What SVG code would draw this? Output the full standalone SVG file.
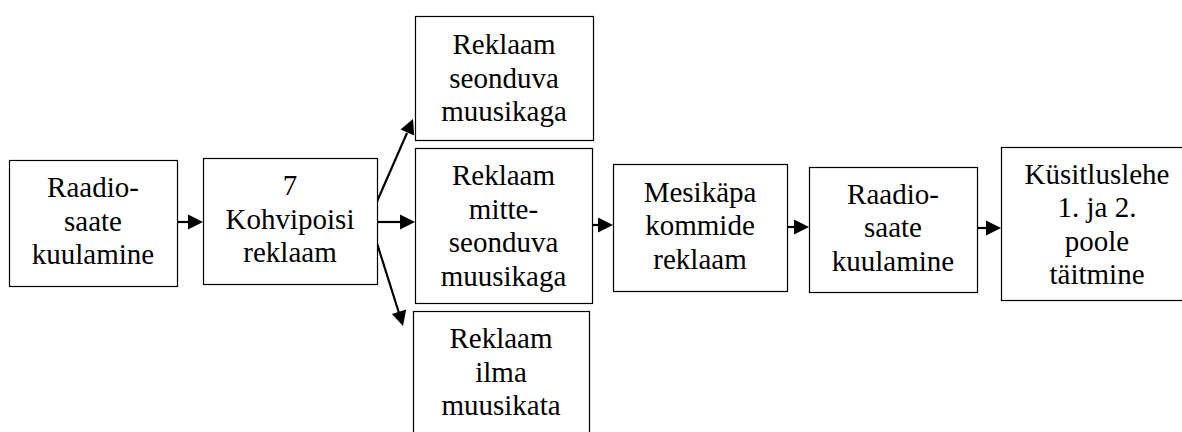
<svg xmlns="http://www.w3.org/2000/svg" width="1182" height="432" viewBox="0 0 1182 432">
  <style>
    .box { fill: #fff; stroke: #000; stroke-width: 1.2; }
    .conn line { stroke: #000; stroke-width: 2.2; }
    .conn polygon { fill: #000; }
    .lbl { font-family: "Times New Roman", "Liberation Serif", "DejaVu Serif", serif; font-size: 29px; fill: #000; text-anchor: middle; }
  </style>
  <rect width="1182" height="432" fill="#fff"/>

  <!-- connectors: shaft plus a filled head ending on the target box edge -->
  <g id="connectors" class="conn">
    <line x1="177" y1="222" x2="190" y2="222"/>
    <polygon points="203,222 188,214.5 188,229.5"/>
    <line x1="377" y1="222" x2="402" y2="222"/>
    <polygon points="415,222 400,214.5 400,229.5"/>
    <line x1="375" y1="206" x2="407" y2="133"/>
    <polygon points="413,119 400.5,129.5 414.2,135.5"/>
    <line x1="375" y1="237" x2="399" y2="313"/>
    <polygon points="403,326 391.9,314.1 406.2,309.6"/>
    <line x1="592" y1="225" x2="600" y2="225"/>
    <polygon points="613,225 598,217.5 598,232.5"/>
    <line x1="787" y1="227" x2="796" y2="227"/>
    <polygon points="809,227 794,219.5 794,234.5"/>
    <line x1="977" y1="228" x2="988" y2="228"/>
    <polygon points="1001,228 986,220.5 986,235.5"/>
  </g>

  <g id="raadio1">
    <rect class="box" x="9.5" y="160.5" width="168" height="126"/>
    <text class="lbl" x="93" y="197">Raadio-</text>
    <text class="lbl" x="93" y="230.5">saate</text>
    <text class="lbl" x="93" y="264">kuulamine</text>
  </g>

  <g id="kohvipoiss">
    <rect class="box" x="203.5" y="158.5" width="174" height="126"/>
    <text class="lbl" x="290" y="195">7</text>
    <text class="lbl" x="290" y="228.5">Kohvipoisi</text>
    <text class="lbl" x="290" y="262">reklaam</text>
  </g>

  <g id="seonduv">
    <rect class="box" x="415.5" y="16.5" width="178" height="124"/>
    <text class="lbl" x="504" y="54">Reklaam</text>
    <text class="lbl" x="504" y="87.5">seonduva</text>
    <text class="lbl" x="504" y="121">muusikaga</text>
  </g>

  <g id="mitteseonduv">
    <rect class="box" x="415.5" y="148.5" width="177" height="155"/>
    <text class="lbl" x="503.5" y="185">Reklaam</text>
    <text class="lbl" x="503.5" y="218.5">mitte-</text>
    <text class="lbl" x="503.5" y="252">seonduva</text>
    <text class="lbl" x="503.5" y="285.5">muusikaga</text>
  </g>

  <g id="ilma">
    <rect class="box" x="413.5" y="311.5" width="176" height="130"/>
    <text class="lbl" x="501" y="348">Reklaam</text>
    <text class="lbl" x="501" y="381.5">ilma</text>
    <text class="lbl" x="501" y="415">muusikata</text>
  </g>

  <g id="mesikapp">
    <rect class="box" x="613.5" y="164.5" width="174" height="127"/>
    <text class="lbl" x="700" y="202">Mesikäpa</text>
    <text class="lbl" x="700" y="235">kommide</text>
    <text class="lbl" x="700" y="268.5">reklaam</text>
  </g>

  <g id="raadio2">
    <rect class="box" x="809.5" y="167.5" width="168" height="125"/>
    <text class="lbl" x="893" y="203.5">Raadio-</text>
    <text class="lbl" x="893" y="237">saate</text>
    <text class="lbl" x="893" y="270.5">kuulamine</text>
  </g>

  <g id="kusitlus">
    <rect class="box" x="1001.5" y="147.5" width="192" height="153"/>
    <text class="lbl" x="1097" y="183.5">Küsitluslehe</text>
    <text class="lbl" x="1097" y="217">1. ja 2.</text>
    <text class="lbl" x="1097" y="250.5">poole</text>
    <text class="lbl" x="1097" y="284">täitmine</text>
  </g>
</svg>
